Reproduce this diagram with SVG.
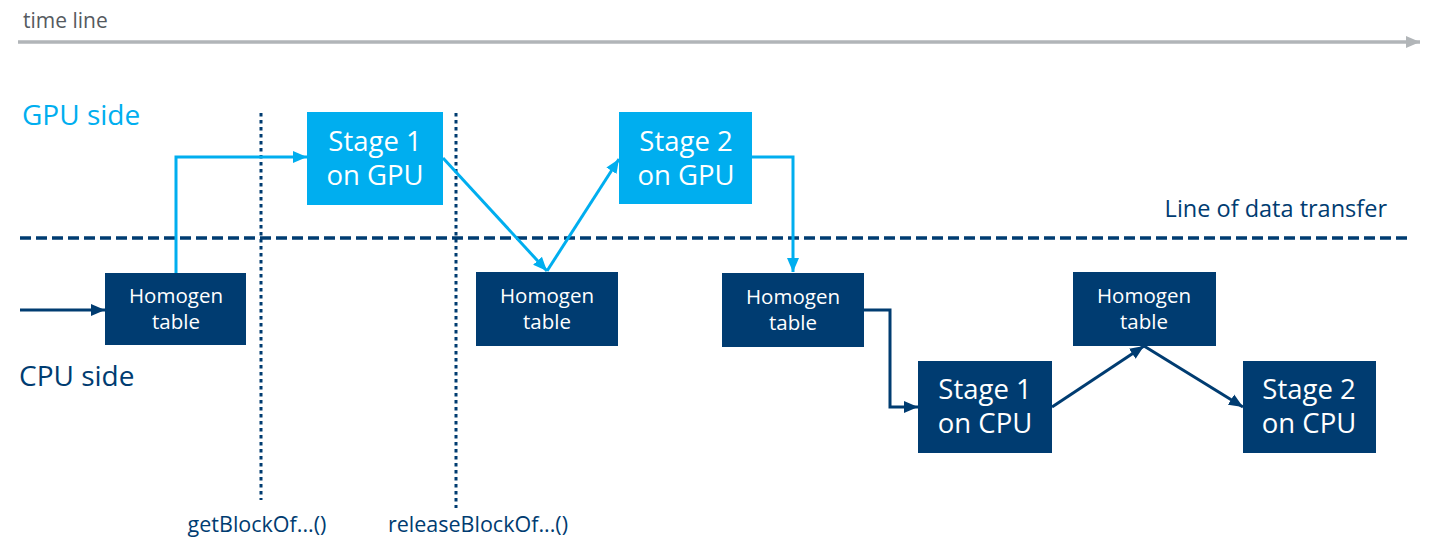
<svg xmlns="http://www.w3.org/2000/svg" width="1434" height="556" viewBox="0 0 1434 556">
<style>
.gpu{fill:#00AEEF}
.cpu{fill:#003C71}
.big{font-family:"Open Sans","Liberation Sans",sans-serif;font-size:27.5px;fill:#fff;text-anchor:middle}
.sm{font-family:"Open Sans","Liberation Sans",sans-serif;font-size:20.5px;fill:#fff;text-anchor:middle}
.lbl{font-family:"Open Sans","Liberation Sans",sans-serif}
.cg{fill:none;stroke:#00AEEF;stroke-width:3}
.cc{fill:none;stroke:#003C71;stroke-width:3}
</style>
<defs>
<marker id="ag" markerUnits="userSpaceOnUse" markerWidth="16" markerHeight="14" refX="14" refY="7" orient="auto"><path d="M0,1 L14,7 L0,13 Z" fill="#00AEEF"/></marker>
<marker id="ac" markerUnits="userSpaceOnUse" markerWidth="16" markerHeight="14" refX="14" refY="7" orient="auto"><path d="M0,1 L14,7 L0,13 Z" fill="#003C71"/></marker>
<marker id="at" markerUnits="userSpaceOnUse" markerWidth="16" markerHeight="14" refX="14" refY="7" orient="auto"><path d="M0,1 L14,7 L0,13 Z" fill="#B1B5B8"/></marker>
</defs>
<rect width="1434" height="556" fill="#fff"/>
<g id="background">
<text class="lbl" x="23" y="28" font-size="21" fill="#555a60">time line</text>
<line x1="18" y1="42" x2="1420" y2="42" stroke="#B1B5B8" stroke-width="3.5" marker-end="url(#at)"/>
<text class="lbl" x="22" y="125" font-size="28" fill="#00AEEF">GPU side</text>
<text class="lbl" x="19" y="386" font-size="28" fill="#003C71">CPU side</text>
<text class="lbl" x="1387" y="217" font-size="23.5" fill="#003C71" text-anchor="end">Line of data transfer</text>
<line x1="20" y1="238" x2="1408" y2="238" stroke="#003C71" stroke-width="3.5" stroke-dasharray="11 5"/>
<line x1="261" y1="113" x2="261" y2="500" stroke="#003C71" stroke-width="3" stroke-dasharray="3.5 3.5"/>
<line x1="456" y1="113" x2="456" y2="508" stroke="#003C71" stroke-width="3" stroke-dasharray="3.5 3.5"/>
<text class="lbl" x="257" y="532" font-size="21.5" fill="#003C71" text-anchor="middle">getBlockOf...()</text>
<text class="lbl" x="478" y="532" font-size="21.5" fill="#003C71" text-anchor="middle">releaseBlockOf...()</text>
</g>
<g id="connectors">
<line class="cc" x1="20" y1="310" x2="105" y2="310" marker-end="url(#ac)"/>
<polyline class="cg" points="176,273 176,157 307,157" marker-end="url(#ag)"/>
<line class="cg" x1="443" y1="158" x2="547" y2="271" marker-end="url(#ag)"/>
<line class="cg" x1="547" y1="271" x2="619" y2="159" marker-end="url(#ag)"/>
<polyline class="cg" points="752,157 793,157 793,272" marker-end="url(#ag)"/>
<polyline class="cc" points="864,310 890,310 890,407 918,407" marker-end="url(#ac)"/>
<line class="cc" x1="1052" y1="407" x2="1144" y2="346" marker-end="url(#ac)"/>
<line class="cc" x1="1144" y1="346" x2="1243" y2="407" marker-end="url(#ac)"/>
</g>
<g id="ht1"><rect class="cpu" x="105" y="273" width="141" height="72"/><text class="sm" x="176" y="303">Homogen</text><text class="sm" x="176" y="329">table</text></g>
<g id="gpu1"><rect class="gpu" x="307" y="112" width="136" height="93"/><text class="big" x="375" y="151">Stage 1</text><text class="big" x="375" y="185">on GPU</text></g>
<g id="ht2"><rect class="cpu" x="476" y="272" width="142" height="74"/><text class="sm" x="547" y="303">Homogen</text><text class="sm" x="547" y="329">table</text></g>
<g id="gpu2"><rect class="gpu" x="619" y="112" width="133" height="92"/><text class="big" x="686" y="151">Stage 2</text><text class="big" x="686" y="185">on GPU</text></g>
<g id="ht3"><rect class="cpu" x="722" y="273" width="142" height="74"/><text class="sm" x="793" y="304">Homogen</text><text class="sm" x="793" y="330">table</text></g>
<g id="cpu1"><rect class="cpu" x="918" y="361" width="134" height="92"/><text class="big" x="985" y="399">Stage 1</text><text class="big" x="985" y="433">on CPU</text></g>
<g id="ht4"><rect class="cpu" x="1073" y="272" width="143" height="74"/><text class="sm" x="1144" y="303">Homogen</text><text class="sm" x="1144" y="329">table</text></g>
<g id="cpu2"><rect class="cpu" x="1243" y="361" width="133" height="92"/><text class="big" x="1309" y="399">Stage 2</text><text class="big" x="1309" y="433">on CPU</text></g>
</svg>
